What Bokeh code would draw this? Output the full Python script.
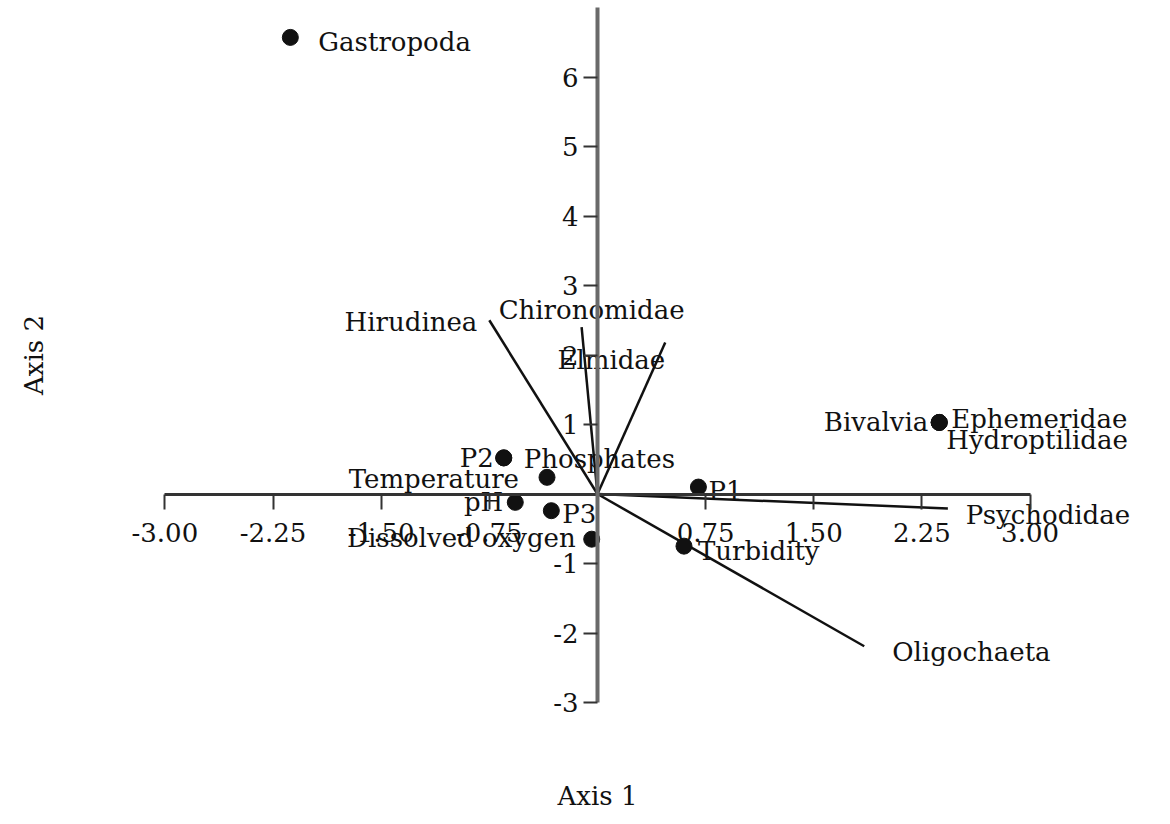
from bokeh.plotting import figure
from bokeh.models import ColumnDataSource, FixedTicker, PrintfTickFormatter, Range1d
from bokeh.core.properties import value
from bokeh.embed import file_html
from bokeh.resources import INLINE
import math

# ---------------- data ----------------
x_ticks = [-3.00, -2.25, -1.50, -0.75, 0.75, 1.50, 2.25, 3.00]
y_ticks = [-3, -2, -1, 1, 2, 3, 4, 5, 6]

# taxa drawn as vectors from the origin
vec_labels = ["Hirudinea", "Chironomidae", "Elmidae", "Psychodidae", "Oligochaeta"]
vec_x = [-0.75, -0.11, 0.47, 2.43, 1.85]
vec_y = [2.50, 2.40, 2.18, -0.21, -2.19]

# taxa, sites and variables drawn as points
point_labels = ["Gastropoda", "Bivalvia", "Ephemeridae", "Hydroptilidae", "P1", "P2", "P3",
                "Temperature", "pH", "Dissolved oxygen", "Turbidity", "Phosphates"]
point_x = [-2.13, 2.37, 2.37, 2.37, 0.70, -0.65, -0.32, -0.35, -0.57, -0.04, 0.60, -0.65]
point_y = [6.57, 1.03, 1.03, 1.03, 0.10, 0.52, -0.24, 0.24, -0.12, -0.65, -0.75, 0.52]

# ---------------- label placement (style) ----------------
point_place = {
    "Gastropoda": ("left", 28, 5), "Bivalvia": ("right", -11, 0),
    "Ephemeridae": ("left", 12, -3), "Hydroptilidae": ("left", 7, 18),
    "P1": ("left", 10, 4), "P2": ("right", -10, 0), "P3": ("left", 11, 3),
    "Temperature": ("right", -28, 2), "pH": ("right", -12, 0),
    "Dissolved oxygen": ("right", -16, -1), "Turbidity": ("left", 14, 5),
    "Phosphates": ("left", 20, 1),
}
vec_place = {
    "Hirudinea": ("right", -12, 2), "Chironomidae": ("center", 10, -17),
    "Elmidae": ("right", 0, 17), "Psychodidae": ("left", 18, 6),
    "Oligochaeta": ("left", 28, 6),
}

FONT = "DejaVu Serif"
FS = "26px"
INK = "#111111"

p = figure(width=1154, height=816, output_backend="svg", toolbar_location=None,
           x_range=Range1d(-4.140, 3.863), y_range=Range1d(-4.640, 7.101),
           min_border=0, outline_line_color=None)
p.grid.visible = False
p.background_fill_color = "white"
p.border_fill_color = "white"

xa = p.xaxis[0]
xa.fixed_location = 0
xa.bounds = (-3, 3)
xa.ticker = FixedTicker(ticks=x_ticks)
xa.formatter = PrintfTickFormatter(format="%.2f")
xa.major_tick_in = 0
xa.major_tick_out = 15
xa.minor_tick_line_color = None
xa.axis_line_width = 3
xa.axis_line_color = "#333333"
xa.major_tick_line_color = "#333333"
xa.major_tick_line_width = 2
xa.major_label_text_font = FONT
xa.major_label_text_font_size = FS
xa.major_label_text_color = INK
xa.major_label_standoff = 14

ya = p.yaxis[0]
ya.fixed_location = 0
ya.bounds = (-3, 7)
ya.ticker = FixedTicker(ticks=y_ticks)
ya.formatter = PrintfTickFormatter(format="%d")
ya.major_tick_in = 0
ya.major_tick_out = 14
ya.minor_tick_line_color = None
ya.axis_line_width = 4
ya.axis_line_color = "#6a6a6a"
ya.major_tick_line_color = "#333333"
ya.major_tick_line_width = 2
ya.major_label_text_font = FONT
ya.major_label_text_font_size = FS
ya.major_label_text_color = INK
ya.major_label_standoff = 5
ya.major_label_orientation = "horizontal"

# vectors
vsrc = ColumnDataSource(dict(
    x0=[0.0] * len(vec_x), y0=[0.0] * len(vec_y), x1=vec_x, y1=vec_y,
    text=vec_labels,
    align=[vec_place[n][0] for n in vec_labels],
    dx=[vec_place[n][1] for n in vec_labels],
    dy=[vec_place[n][2] for n in vec_labels],
))
p.segment(x0="x0", y0="y0", x1="x1", y1="y1", source=vsrc, line_color=INK, line_width=2.5)
p.text(x="x1", y="y1", text="text", source=vsrc, text_align="align", x_offset="dx",
       y_offset="dy", text_baseline="middle", text_font=value(FONT),
       text_font_size=FS, text_color=INK)

# points
psrc = ColumnDataSource(dict(
    x=point_x, y=point_y, text=point_labels,
    align=[point_place[n][0] for n in point_labels],
    dx=[point_place[n][1] for n in point_labels],
    dy=[point_place[n][2] for n in point_labels],
))
p.scatter(x="x", y="y", source=psrc, size=16, fill_color=INK, line_color=INK)
p.text(x="x", y="y", text="text", source=psrc, text_align="align", x_offset="dx",
       y_offset="dy", text_baseline="middle", text_font=value(FONT),
       text_font_size=FS, text_color=INK)

# axis titles
p.text(x=[0.0], y=[-4.35], text=["Axis 1"], text_align="center", text_baseline="middle",
       text_font=value(FONT), text_font_size=FS, text_color=INK)
p.text(x=[-3.91], y=[2.0], text=["Axis 2"], angle=math.pi / 2, text_align="center",
       text_baseline="middle", text_font=value(FONT), text_font_size=FS, text_color=INK)

open("out.html", "w").write(file_html(p, INLINE))
